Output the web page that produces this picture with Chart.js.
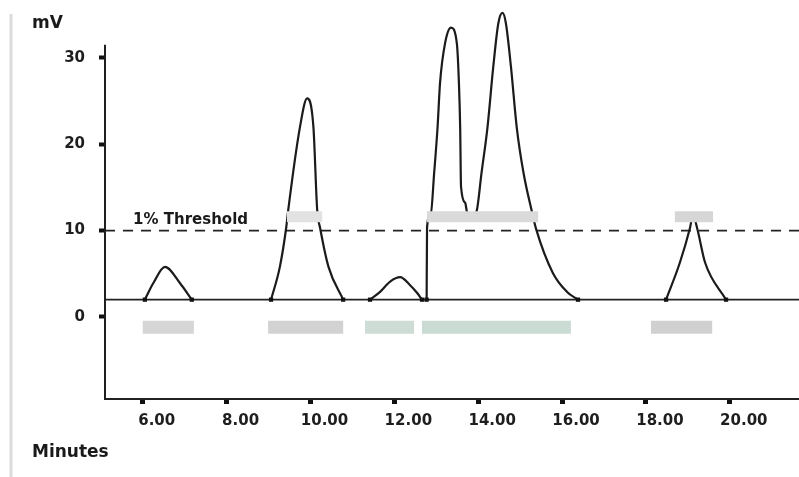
<!DOCTYPE html>
<html>
<head>
<meta charset="utf-8">
<script src="https://cdn.jsdelivr.net/npm/chart.js@4.4.1/dist/chart.umd.min.js"></script>
<style>
    html, body { margin: 0; padding: 0; background: #fff; }
    #wrap { width: 799px; height: 477px; position: relative; }
</style>
</head>
<body>
<div id="wrap"><canvas id="chromChart"></canvas></div>
<script>
// axis ranges and tick labels
const xMin = 5.1, xMax = 21.65;
const yMin = -9.5, yMax = 36;
const xTicks = [6, 8, 10, 12, 14, 16, 18, 20];
const yTicks = [0, 10, 20, 30];
const baselineMv = 2;
const thresholdMv = 10;

// peak traces (minutes / mV)
const peak1Min = [6.05, 6.25, 6.53, 6.89, 7.17];
const peak1Mv  = [2.0, 3.9, 5.8, 3.9, 2.0];
const peak2Min = [9.06, 9.27, 9.42, 9.47, 9.75, 9.92, 10.07, 10.16, 10.23, 10.43, 10.78];
const peak2Mv  = [2.0, 5.8, 10.3, 12.4, 22.0, 25.3, 22.0, 12.4, 10.3, 5.8, 2.0];
const peak3Min = [11.42, 11.66, 11.90, 12.14, 12.37, 12.54, 12.66];
const peak3Mv  = [2.0, 2.9, 4.1, 4.6, 3.7, 2.8, 2.0];
const peak45Min = [12.77, 12.78, 12.87, 12.95, 13.03, 13.09, 13.21, 13.35, 13.49, 13.54, 13.57, 13.59, 13.69, 13.73, 13.83,
                   13.96, 14.08, 14.22, 14.36, 14.48, 14.58, 14.66, 14.78, 14.92, 15.08, 15.28, 15.38, 15.78, 16.12, 16.38];
const peak45Mv  = [2.0, 10.4, 12.0, 16.7, 21.9, 27.1, 31.7, 33.5, 31.7, 27.1, 21.9, 15.1, 13.2, 12.2, 11.5,
                   12.2, 16.7, 21.9, 29.0, 34.0, 35.2, 34.0, 29.0, 21.9, 16.7, 12.2, 10.2, 5.1, 2.9, 2.0];
const peak6Min = [18.48, 18.81, 19.05, 19.12, 19.22, 19.41, 19.91];
const peak6Mv  = [2.0, 6.3, 10.3, 11.8, 10.3, 6.3, 2.0];

// shaded integration bars (start / end minutes)
const rangeBarStart = [6.0, 8.99, 11.30, 12.66, 18.12];
const rangeBarEnd   = [7.22, 10.78, 12.47, 16.21, 19.58];
const rangeBarMv = -1.2;
const thresholdBarStart = [9.44, 12.78, 18.69];
const thresholdBarEnd   = [10.28, 15.43, 19.60];
const thresholdBarMv = 11.6;

const rangeBarColors = ['#d6d6d6', '#d2d2d2', '#cddcd5', '#c9dbd2', '#d0d0d0'];
const thresholdBarColors = ['#e2e2e2', '#dadada', '#d6d6d6'];

function toPoints(xs, ys) {
    return xs.map((x, i) => ({ x: x, y: ys[i] }));
}

function peakSet(xs, ys) {
    return {
        data: toPoints(xs, ys),
        borderColor: '#1b1b1b',
        borderWidth: 2.2,
        cubicInterpolationMode: 'monotone',
        pointStyle: 'rect',
        pointRadius: c => (c.dataIndex === 0 || c.dataIndex === c.dataset.data.length - 1) ? 3 : 0,
        pointBackgroundColor: '#111',
        pointBorderWidth: 0,
        order: 1
    };
}

function barSet(start, end, level, color, width) {
    return {
        data: [{ x: start, y: level }, { x: end, y: level }],
        borderColor: color,
        borderWidth: width,
        borderCapStyle: 'butt',
        pointRadius: 0,
        tension: 0,
        order: 0
    };
}

const datasets = [];
rangeBarStart.forEach((s, i) => datasets.push(barSet(s, rangeBarEnd[i], rangeBarMv, rangeBarColors[i], 13)));
thresholdBarStart.forEach((s, i) => datasets.push(barSet(s, thresholdBarEnd[i], thresholdBarMv, thresholdBarColors[i], 11)));
datasets.push(peakSet(peak1Min, peak1Mv));
datasets.push(peakSet(peak2Min, peak2Mv));
datasets.push(peakSet(peak3Min, peak3Mv));
datasets.push(peakSet(peak45Min, peak45Mv));
datasets.push(peakSet(peak6Min, peak6Mv));
datasets.push({
    data: [{ x: xMin, y: baselineMv }, { x: xMax, y: baselineMv }],
    borderColor: '#222', borderWidth: 1.8, pointRadius: 0, order: 2
});
datasets.push({
    data: [{ x: xMin, y: thresholdMv }, { x: xMax, y: thresholdMv }],
    borderColor: '#222', borderWidth: 1.8, borderDash: [10, 8], pointRadius: 0, order: 2
});

// axis line, scan edge and free text
const decorPlugin = {
    id: 'decor',
    beforeDraw(chart) {
        const ctx = chart.ctx;
        ctx.save();
        ctx.strokeStyle = '#dcdcdc';
        ctx.lineWidth = 3;
        ctx.beginPath();
        ctx.moveTo(11, 14);
        ctx.lineTo(11, 477);
        ctx.stroke();
        ctx.restore();
    },
    afterDraw(chart) {
        const { ctx, scales: { x, y } } = chart;
        ctx.save();
        ctx.strokeStyle = '#1f1f1f';
        ctx.lineWidth = 2;
        ctx.beginPath();
        ctx.moveTo(x.left, y.getPixelForValue(31.5));
        ctx.lineTo(x.left, y.bottom);
        ctx.stroke();

        ctx.fillStyle = '#1a1a1a';
        ctx.textBaseline = 'alphabetic';
        ctx.font = 'bold 17px "DejaVu Sans"';
        ctx.fillText('mV', 32, 28);
        ctx.fillText('Minutes', 32, 457);
        ctx.font = 'bold 15px "DejaVu Sans"';
        ctx.fillText('1% Threshold', x.getPixelForValue(5.77), y.getPixelForValue(thresholdMv) - 7);
        ctx.restore();
    }
};

const tickFont = { family: 'DejaVu Sans', size: 15, weight: 'bold' };

new Chart(document.getElementById('chromChart').getContext('2d'), {
    type: 'line',
    data: { datasets: datasets },
    options: {
        responsive: true,
        maintainAspectRatio: false,
        animation: false,
        layout: { autoPadding: false, padding: { top: 6, right: 0, bottom: 0, left: 0 } },
        plugins: { legend: { display: false }, tooltip: { enabled: false } },
        scales: {
            x: {
                type: 'linear',
                min: xMin,
                max: xMax,
                afterBuildTicks: s => { s.ticks = xTicks.map(v => ({ value: v })); },
                afterFit: s => { s.height = 78; s.paddingLeft = 0; s.paddingRight = 0; },
                ticks: {
                    callback: v => Number(v).toFixed(2),
                    font: tickFont,
                    color: '#1e1e1e',
                    padding: 8,
                    labelOffset: 14,
                    maxRotation: 0,
                    autoSkip: false
                },
                grid: { drawOnChartArea: false, tickLength: 5, tickWidth: 5, color: '#111', tickColor: '#111' },
                border: { display: true, color: '#222', width: 2 }
            },
            y: {
                type: 'linear',
                min: yMin,
                max: yMax,
                afterBuildTicks: s => { s.ticks = yTicks.map(v => ({ value: v })); },
                afterFit: s => { s.width = 105; s.paddingTop = 0; s.paddingBottom = 0; },
                ticks: { font: tickFont, color: '#1e1e1e', padding: 14 },
                grid: { drawOnChartArea: false, tickLength: 6, tickWidth: 4, color: '#111', tickColor: '#111' },
                border: { display: false }
            }
        }
    },
    plugins: [decorPlugin]
});
</script>
</body>
</html>
